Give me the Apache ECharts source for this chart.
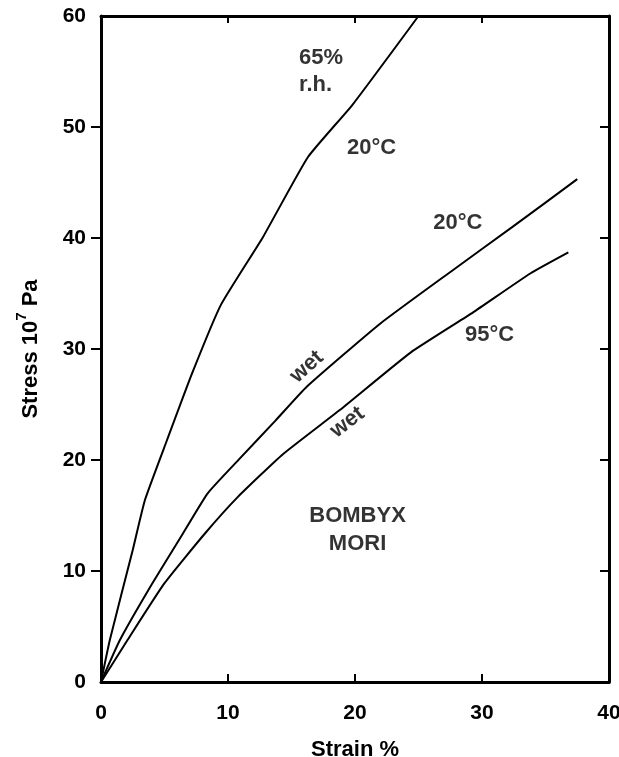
<!DOCTYPE html>
<html>
<head>
<meta charset="utf-8">
<script src="https://cdn.jsdelivr.net/npm/echarts@6/dist/echarts.min.js"></script>
<style>
  html, body { margin: 0; padding: 0; background: #fff; }
  #chart { width: 619px; height: 757px; }
</style>
</head>
<body>
<div id="chart"></div>
<script>
// strain (%) / stress (10^7 Pa) pairs
const dry20 = [[0, 0], [0.7, 3.8], [2.5, 11.9], [3.46, 16.4], [5.2, 21.8],
  [7.17, 27.8], [9.45, 34.0], [12.76, 40.1], [16.3, 47.3], [19.8, 52.0], [25.0, 60]]
const wet20 = [[0, 0], [1.5, 3.8], [4.0, 8.8], [6.2, 12.9], [8.4, 17.0], [10.9, 20.1],
  [13.7, 23.5], [16.2, 26.6], [22.0, 32.3], [27.7, 37.1], [32.4, 41.0], [37.5, 45.3]]
const wet95 = [[0, 0], [2.1, 3.8], [5.0, 8.9], [8.2, 13.4], [10.8, 16.7], [14.3, 20.5],
  [18.8, 24.5], [24.4, 29.7], [29.3, 33.3], [33.8, 36.8], [36.8, 38.7]]

const xTicks = [0, 10, 20, 30, 40]
const yTicks = [0, 10, 20, 30, 40, 50, 60]

// annotations: text, strain, stress, rotation, alignment
const notes = [
  ['65%', 15.6, 56.2, 0, 'left'],
  ['r.h.', 15.6, 53.8, 0, 'left'],
  ['20°C', 21.3, 48.1, 0, 'center'],
  ['20°C', 28.1, 41.4, 0, 'center'],
  ['95°C', 30.6, 31.3, 0, 'center'],
  ['wet', 16.2, 28.4, 42, 'center'],
  ['wet', 19.4, 23.4, 37, 'center'],
  ['BOMBYX', 20.2, 15.0, 0, 'center'],
  ['MORI', 20.2, 12.4, 0, 'center']
]

const font = 'Liberation Sans, Arial, sans-serif'
const axisLine = { show: true, onZero: false, lineStyle: { color: '#000', width: 3 } }

const chart = echarts.init(document.getElementById('chart'))

const lineSeries = (data) => ({
  type: 'line',
  data: data,
  symbol: 'none',
  smooth: 0.15,
  lineStyle: { color: '#000', width: 2 },
  xAxisIndex: 0,
  yAxisIndex: 0,
  silent: true
})

chart.setOption({
  animation: false,
  backgroundColor: '#fff',
  grid: { left: 101, right: 10, top: 16, bottom: 75, outerBoundsMode: 'none', containLabel: false },
  xAxis: [
    {
      type: 'value', min: 0, max: 40, interval: 10, position: 'bottom',
      name: 'Strain %', nameLocation: 'middle', nameGap: 57,
      nameTextStyle: { fontFamily: font, fontWeight: 'bold', fontSize: 22, color: '#000' },
      axisLine: axisLine,
      axisTick: { show: true, inside: true, length: 8, lineStyle: { color: '#000', width: 2 } },
      axisLabel: { margin: 21, fontFamily: font, fontWeight: 'bold', fontSize: 21, color: '#000',
        customValues: xTicks },
      splitLine: { show: false }
    },
    {
      type: 'value', min: 0, max: 40, interval: 10, position: 'top',
      axisLine: axisLine,
      axisTick: { show: true, inside: true, length: 7, lineStyle: { color: '#000', width: 2 } },
      axisLabel: { show: false },
      splitLine: { show: false }
    }
  ],
  yAxis: [
    {
      type: 'value', min: 0, max: 60, interval: 10, position: 'left',
      name: '{a|Stress 10}{s|7}{a| Pa}', nameLocation: 'middle', nameGap: 59,
      nameTextStyle: {
        rich: {
          a: { fontFamily: font, fontWeight: 'bold', fontSize: 22, color: '#000', lineHeight: 28, verticalAlign: 'bottom' },
          s: { fontFamily: font, fontWeight: 'bold', fontSize: 15, color: '#000', lineHeight: 28, verticalAlign: 'top' }
        }
      },
      axisLine: axisLine,
      axisTick: { show: true, inside: false, length: 10, customValues: [10, 20, 30, 40, 50],
        lineStyle: { color: '#000', width: 2 } },
      axisLabel: { margin: 15, fontFamily: font, fontWeight: 'bold', fontSize: 21, color: '#000',
        customValues: yTicks },
      splitLine: { show: false }
    },
    {
      type: 'value', min: 0, max: 60, interval: 10, position: 'right',
      axisLine: axisLine,
      axisTick: { show: true, inside: true, length: 9, lineStyle: { color: '#000', width: 2 } },
      axisLabel: { show: false },
      splitLine: { show: false }
    }
  ],
  series: [
    lineSeries(dry20),
    lineSeries(wet20),
    lineSeries(wet95),
    {
      type: 'scatter',
      symbolSize: 0,
      silent: true,
      data: notes.map(n => ({
        value: [n[1], n[2]],
        label: {
          show: true, position: 'inside', formatter: n[0], rotate: n[3], align: n[4],
          verticalAlign: 'middle',
          fontFamily: font, fontWeight: 'bold', fontSize: 22, color: '#000'
        }
      }))
    }
  ]
})
</script>
</body>
</html>
